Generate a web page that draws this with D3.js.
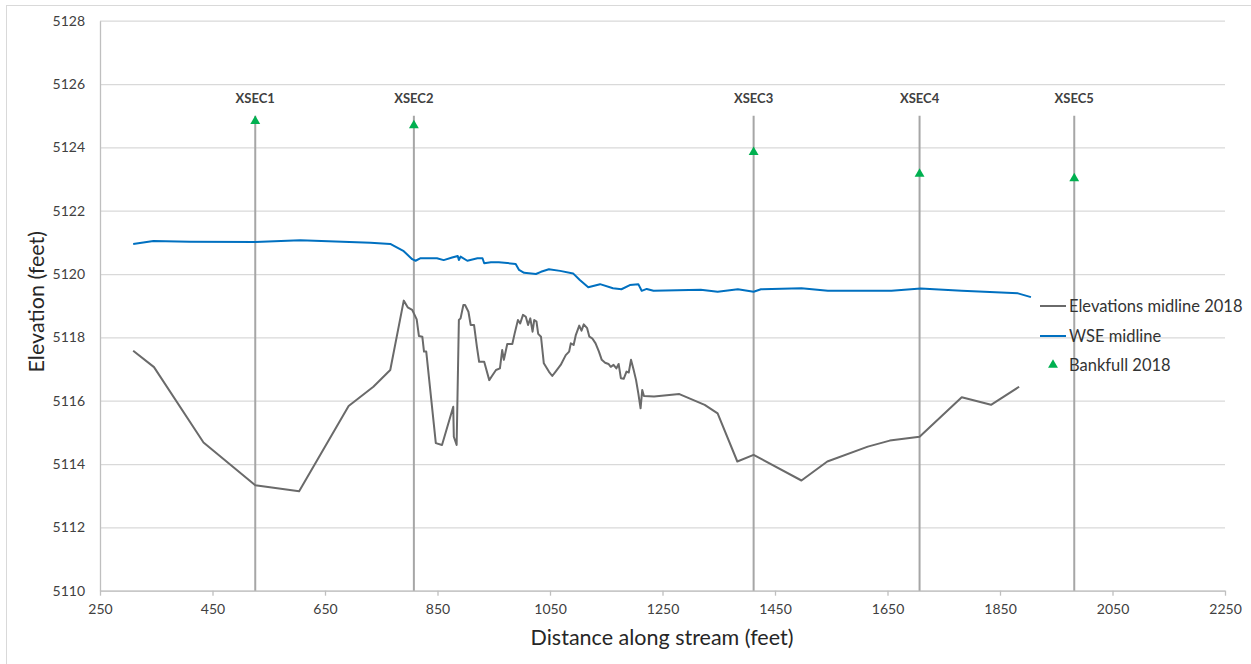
<!DOCTYPE html>
<html>
<head>
<meta charset="utf-8">
<script src="https://cdnjs.cloudflare.com/ajax/libs/d3/7.8.5/d3.min.js"></script>
<style>
body { margin: 0; background: #ffffff; }
text { font-family: Lato, "Open Sans", sans-serif; }
</style>
</head>
<body>
<div class="canvas"></div>
<script>
// elevation along the stream midline
var elevDist = [309, 346, 434, 526, 604, 692, 736, 766, 790, 797, 805, 813, 817, 823, 826, 830, 847, 858, 878, 879, 884, 888, 891, 896, 899, 905, 909, 915, 920, 924, 927, 933, 942, 948, 954, 961, 965, 968, 974, 983, 987, 993, 997, 1002, 1007, 1011, 1015, 1019, 1022, 1026, 1029, 1034, 1039, 1048, 1054, 1060, 1069, 1078, 1084, 1087, 1092, 1096, 1102, 1106, 1110, 1116, 1120, 1125, 1131, 1137, 1142, 1148, 1154, 1158, 1163, 1168, 1172, 1176, 1181, 1186, 1190, 1194, 1199, 1203, 1207, 1211, 1214, 1217, 1235, 1280, 1325, 1348, 1383, 1412, 1497, 1543, 1615, 1654, 1707, 1782, 1834, 1884];
var elevValues = [5117.58, 5117.06, 5114.68, 5113.33, 5113.14, 5115.83, 5116.44, 5116.97, 5119.16, 5118.95, 5118.87, 5118.57, 5118.04, 5118.02, 5117.55, 5117.55, 5114.66, 5114.60, 5115.81, 5114.86, 5114.60, 5118.55, 5118.60, 5119.02, 5119.02, 5118.81, 5118.39, 5118.39, 5117.71, 5117.23, 5117.23, 5117.23, 5116.65, 5116.81, 5116.97, 5117.02, 5117.60, 5117.29, 5117.79, 5117.79, 5118.11, 5118.55, 5118.44, 5118.71, 5118.65, 5118.39, 5118.60, 5118.18, 5118.55, 5118.50, 5118.11, 5118.02, 5117.18, 5116.92, 5116.78, 5116.92, 5117.13, 5117.44, 5117.55, 5117.81, 5117.76, 5118.08, 5118.37, 5118.21, 5118.41, 5118.29, 5118.02, 5117.97, 5117.81, 5117.55, 5117.29, 5117.20, 5117.16, 5117.07, 5117.13, 5117.02, 5117.16, 5116.71, 5116.69, 5116.92, 5116.89, 5117.29, 5116.95, 5116.65, 5116.23, 5115.76, 5116.34, 5116.15, 5116.13, 5116.21, 5115.87, 5115.60, 5114.08, 5114.29, 5113.48, 5114.08, 5114.55, 5114.74, 5114.86, 5116.11, 5115.87, 5116.44];

// water surface elevation along the midline
var wseDist = [309, 345, 410, 526, 606, 731, 766, 790, 805, 811, 820, 849, 861, 876, 886, 888, 891, 903, 921, 930, 933, 945, 959, 989, 995, 1004, 1025, 1034, 1048, 1068, 1091, 1103, 1118, 1139, 1162, 1177, 1192, 1207, 1213, 1222, 1234, 1318, 1348, 1384, 1412, 1425, 1497, 1544, 1657, 1709, 1782, 1882, 1905];
var wseValues = [5120.95, 5121.04, 5121.02, 5121.01, 5121.07, 5120.99, 5120.95, 5120.72, 5120.47, 5120.42, 5120.50, 5120.50, 5120.44, 5120.52, 5120.57, 5120.44, 5120.55, 5120.42, 5120.50, 5120.50, 5120.34, 5120.37, 5120.37, 5120.32, 5120.13, 5120.04, 5120.00, 5120.07, 5120.15, 5120.10, 5120.02, 5119.81, 5119.58, 5119.68, 5119.55, 5119.52, 5119.65, 5119.68, 5119.47, 5119.53, 5119.47, 5119.50, 5119.44, 5119.52, 5119.44, 5119.52, 5119.55, 5119.47, 5119.47, 5119.54, 5119.47, 5119.39, 5119.27];

// cross sections and bankfull elevations
var xsecNames = ["XSEC1", "XSEC2", "XSEC3", "XSEC4", "XSEC5"];
var xsecDist = [526, 808, 1412, 1707, 1982];
var xsecTop = 5125;
var bankfullValues = [5124.83, 5124.69, 5123.85, 5123.16, 5123.02];

var xTicks = [250, 450, 650, 850, 1050, 1250, 1450, 1650, 1850, 2050, 2250];
var yTicks = [5110, 5112, 5114, 5116, 5118, 5120, 5122, 5124, 5126, 5128];

var seriesNames = ["Elevations midline 2018", "WSE midline", "Bankfull 2018"];

var plotLeft = 100, plotRight = 1225, plotTop = 20.7, plotBottom = 590.7;

var svg = d3.select(".canvas")
	.append("svg")
	.attr("width", 1251)
	.attr("height", 664);

svg.append("rect")
	.attr("x", 6.5)
	.attr("y", 5.5)
	.attr("width", 1270)
	.attr("height", 680)
	.attr("fill", "white")
	.attr("stroke", "#d9d9d9");

var x = d3.scaleLinear().domain([250, 2250]).range([plotLeft, plotRight]);
var y = d3.scaleLinear().domain([5110, 5128]).range([plotBottom, plotTop]);

// horizontal gridlines
svg.append("g")
	.attr("transform", "translate(" + plotLeft + ",0)")
	.call(d3.axisLeft(y).tickValues(yTicks).tickSize(-(plotRight - plotLeft)).tickFormat(""))
	.call(function(g){ g.select(".domain").remove(); })
	.selectAll("line")
	.attr("stroke", "#d9d9d9")
	.attr("stroke-width", 1.3);

// y axis labels
var yAxis = svg.append("g")
	.attr("transform", "translate(" + plotLeft + ",0)")
	.call(d3.axisLeft(y).tickValues(yTicks).tickSize(0).tickPadding(15).tickFormat(d3.format("d")));
yAxis.select(".domain").attr("stroke", "#bfbfbf").attr("stroke-width", 1.3);
yAxis.selectAll("text")
	.attr("font-size", "14px")
	.attr("fill", "#404040")
	.style("font-family", "Lato, sans-serif");

// x axis
var xAxis = svg.append("g")
	.attr("transform", "translate(0," + plotBottom + ")")
	.call(d3.axisBottom(x).tickValues(xTicks).tickSize(5).tickSizeOuter(0).tickPadding(8).tickFormat(d3.format("d")));
xAxis.select(".domain").attr("stroke", "#bfbfbf").attr("stroke-width", 1.3);
xAxis.selectAll("line").attr("stroke", "#bfbfbf").attr("stroke-width", 1.3);
xAxis.selectAll("text")
	.attr("font-size", "14px")
	.attr("fill", "#404040")
	.style("font-family", "Lato, sans-serif");

// cross section lines
svg.selectAll(".xsec")
	.data(xsecDist)
	.enter()
	.append("line")
	.attr("class", "xsec")
	.attr("x1", function(d){ return x(d); })
	.attr("x2", function(d){ return x(d); })
	.attr("y1", y(xsecTop))
	.attr("y2", y(5110))
	.attr("stroke", "#a6a6a6")
	.attr("stroke-width", 2);

svg.selectAll(".xsecLabel")
	.data(xsecNames)
	.enter()
	.append("text")
	.attr("class", "xsecLabel")
	.attr("x", function(d, i){ return x(xsecDist[i]); })
	.attr("y", 103)
	.attr("text-anchor", "middle")
	.attr("font-size", "13px")
	.attr("font-weight", "bold")
	.attr("fill", "#404040")
	.text(function(d){ return d; });

var line = d3.line()
	.x(function(d){ return x(d[0]); })
	.y(function(d){ return y(d[1]); });

svg.append("path")
	.datum(d3.zip(wseDist, wseValues))
	.attr("d", line)
	.attr("fill", "none")
	.attr("stroke", "#0070c0")
	.attr("stroke-width", 2)
	.attr("stroke-linejoin", "round");

svg.append("path")
	.datum(d3.zip(elevDist, elevValues))
	.attr("d", line)
	.attr("fill", "none")
	.attr("stroke", "#6a6a6a")
	.attr("stroke-width", 2)
	.attr("stroke-linejoin", "round");

var tri = d3.symbol().type(d3.symbolTriangle).size(42);

svg.selectAll(".bankfull")
	.data(bankfullValues)
	.enter()
	.append("path")
	.attr("class", "bankfull")
	.attr("d", tri)
	.attr("transform", function(d, i){ return "translate(" + x(xsecDist[i]) + "," + y(d) + ")"; })
	.attr("fill", "#00b050");

// legend
var legend = svg.append("g").attr("transform", "translate(1040,306)");

legend.append("line")
	.attr("x1", 0).attr("x2", 26).attr("y1", 0).attr("y2", 0)
	.attr("stroke", "#6a6a6a").attr("stroke-width", 2);
legend.append("line")
	.attr("x1", 0).attr("x2", 26).attr("y1", 30).attr("y2", 30)
	.attr("stroke", "#0070c0").attr("stroke-width", 2);
legend.append("path")
	.attr("d", tri)
	.attr("transform", "translate(13,59)")
	.attr("fill", "#00b050");

legend.selectAll(".legText")
	.data(seriesNames)
	.enter()
	.append("text")
	.attr("class", "legText")
	.attr("x", 29)
	.attr("y", function(d, i){ return i * 29.5 + 6; })
	.attr("font-size", "16.5px")
	.attr("fill", "#333333")
	.text(function(d){ return d; });

// axis titles
svg.append("text")
	.attr("x", 662)
	.attr("y", 645)
	.attr("text-anchor", "middle")
	.attr("font-size", "21.5px")
	.attr("fill", "#262626")
	.text("Distance along stream (feet)");

svg.append("text")
	.attr("transform", "translate(44," + ((plotTop + plotBottom) / 2 - 4) + ") rotate(-90)")
	.attr("text-anchor", "middle")
	.attr("font-size", "21.5px")
	.attr("fill", "#262626")
	.text("Elevation (feet)");
</script>
</body>
</html>
